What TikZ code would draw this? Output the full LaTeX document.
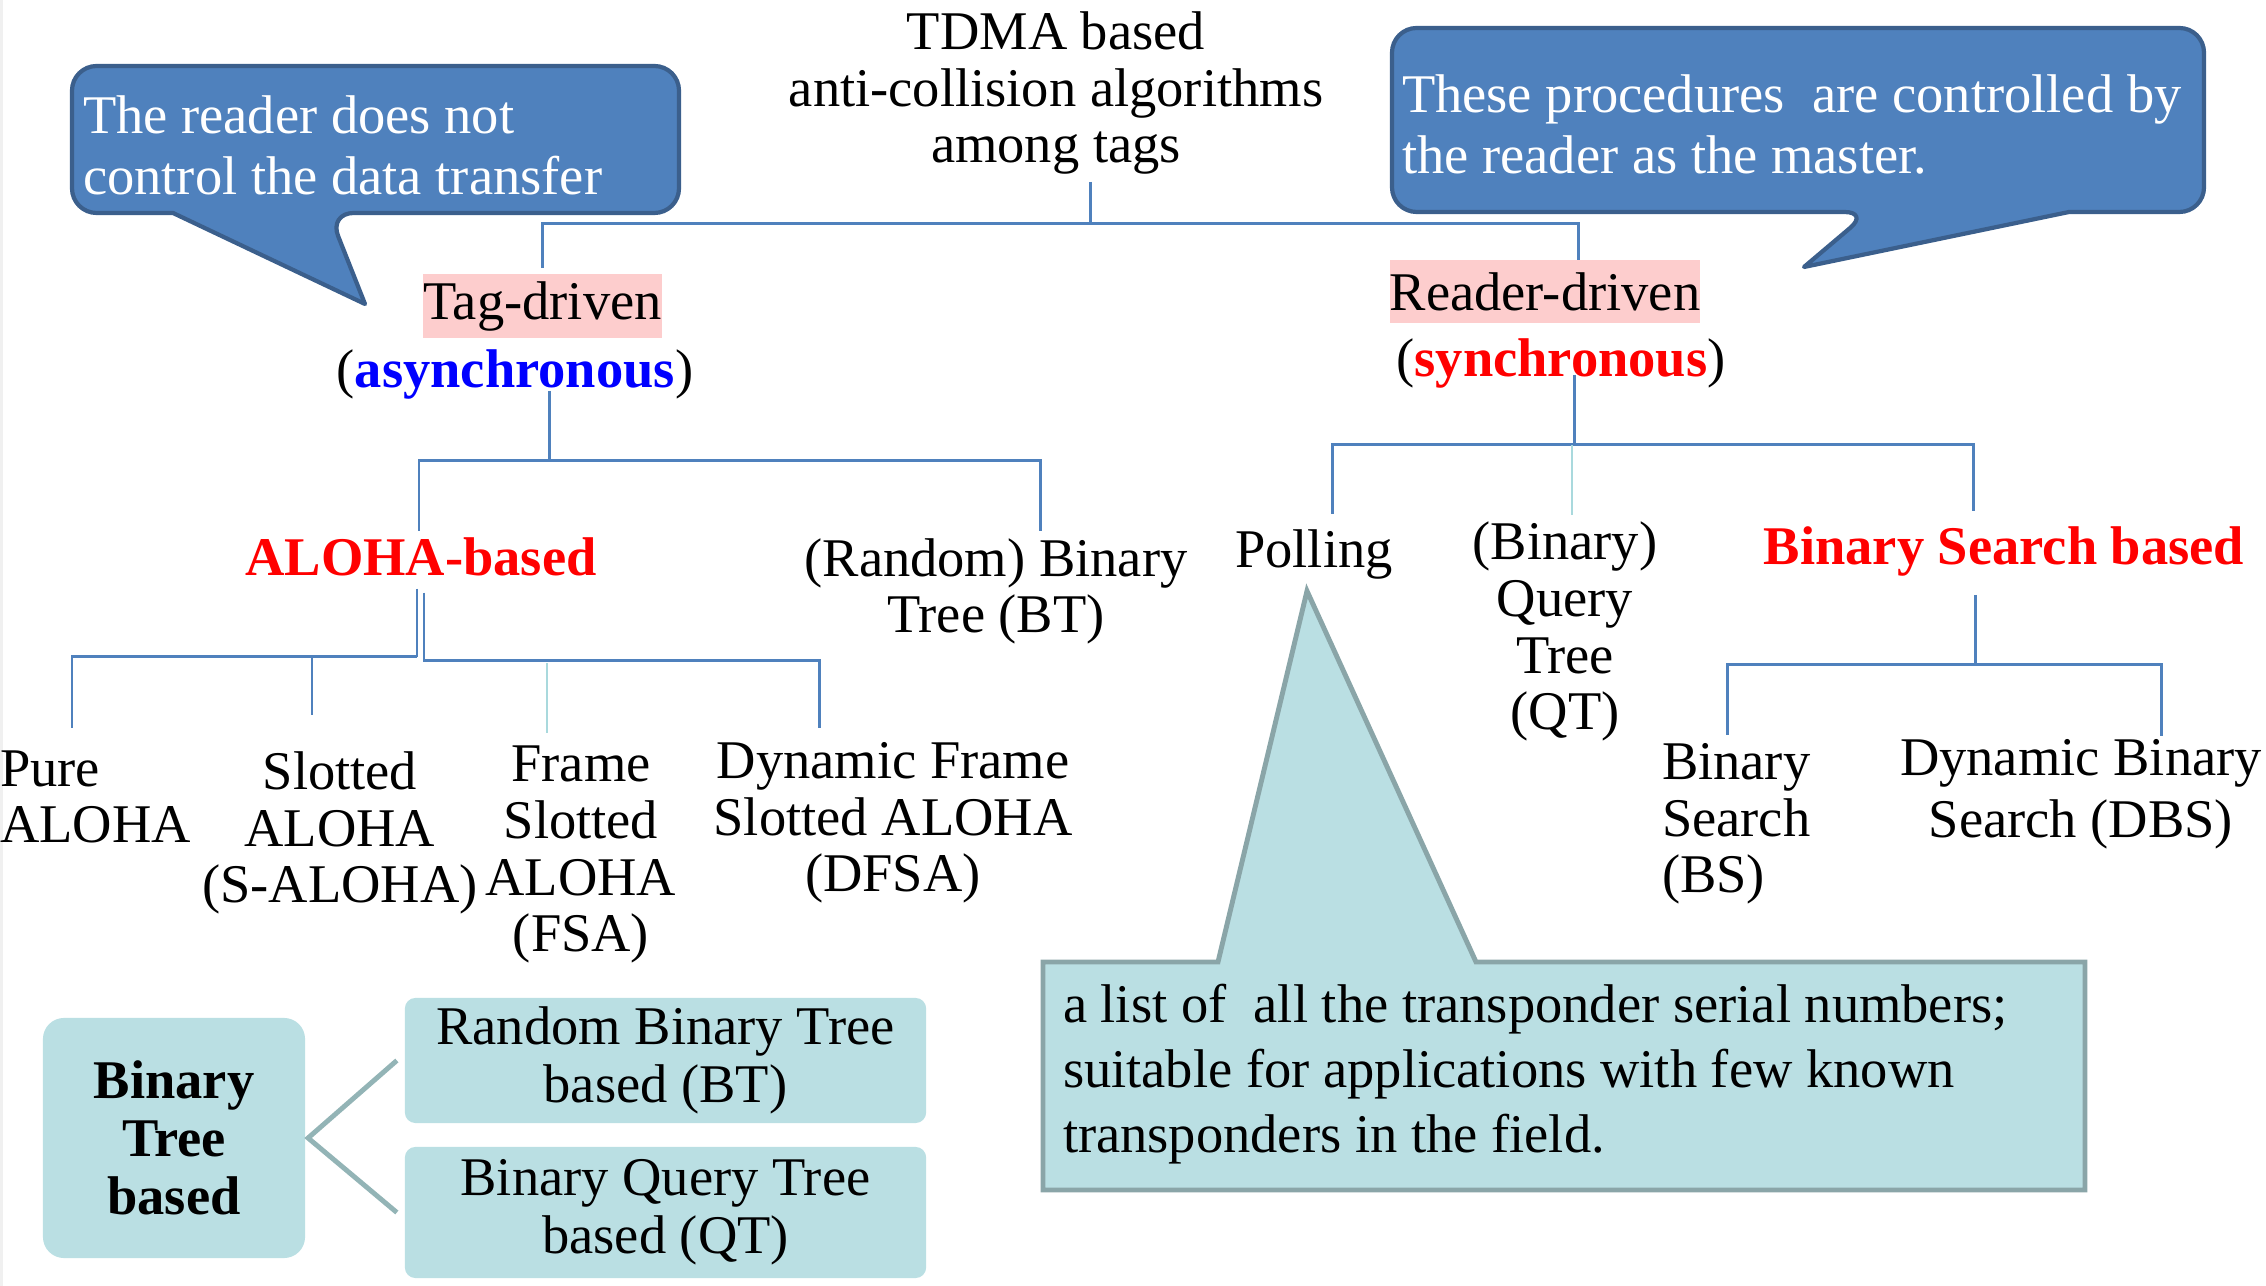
\documentclass[tikz,border=0pt]{standalone}
\usepackage{fontspec}
\setmainfont{Liberation Serif}
\usetikzlibrary{calc}
\definecolor{cblue}{HTML}{4F81BD}
\definecolor{cbluedark}{HTML}{3B5F8C}
\definecolor{cteal}{HTML}{BADFE3}
\definecolor{ctealdark}{HTML}{8AA5A8}
\definecolor{clinkteal}{HTML}{93B4B6}
\definecolor{clight}{HTML}{A9D9DD}
\definecolor{cpink}{HTML}{FDCDCD}
\definecolor{cred}{HTML}{FF0000}
\definecolor{cbluetext}{HTML}{0000FF}
\begin{document}
\begin{tikzpicture}[x=0.01cm,y=-0.01cm,
  every node/.style={inner sep=0pt, outer sep=0pt},
  txt/.style={align=center, anchor=base, font=\fontsize{15.5}{16.2}\selectfont},
  txtl/.style={align=left, anchor=base west, font=\fontsize{15.5}{16.2}\selectfont},
  redb/.style={txt, font=\fontsize{15.5}{16.2}\selectfont\bfseries, text=cred},
  pinkbox/.style={fill=cpink, font=\fontsize{15.5}{16.2}\selectfont},
  tree/.style={draw=cblue, line width=0.85pt},
  treelight/.style={draw=clight, line width=0.6pt},
  calloutblue/.style={fill=cblue, draw=cbluedark, line width=1.2pt, line join=round},
  calloutteal/.style={fill=cteal, draw=ctealdark, line width=1.4pt},
  tealbox/.style={fill=cteal, rounded corners=6pt, align=center, font=\fontsize{15.5}{16.5}\selectfont},
  tealline/.style={draw=clinkteal, line width=1.4pt}
]
\useasboundingbox (0,0) rectangle (2266,1286);
\fill[gray!12] (0,0) rectangle (3,1286);

% ---------- callouts (base anchor = last line's baseline) ----------
\draw[calloutblue] [rounded corners=7pt] (173,213) -- (72,213) -- (72,66) -- (679,66) -- (679,213) -- (329,213) [sharp corners] -- (365,304) -- cycle;
\node[txtl, text=white, font=\fontsize{15.5}{17.6}\selectfont] (noteL) at (83,195) {The reader does not\\control the data transfer};

\draw[calloutblue] [rounded corners=7pt] (2069,212) -- (2204,212) -- (2204,28) -- (1392,28) -- (1392,212) -- (1869,212) [sharp corners] -- (1804,267) -- cycle;
\node[txtl, text=white, font=\fontsize{15.5}{17.6}\selectfont] (noteR) at (1402,174) {These procedures\ \ are controlled by\\the reader as the master.};

\draw[calloutteal] (1218,962) -- (1043,962) -- (1043,1190) -- (2085,1190) -- (2085,962) -- (1476,962) -- (1307,591) -- cycle;
\node[txtl, font=\fontsize{15.5}{18.6}\selectfont] (notePoll) at (1063,1153) {a list of\ \ all the transponder serial numbers;\\suitable for applications with few known\\transponders in the field.};

% ---------- tree nodes ----------
\node[txt] (title) at (1056,163) {TDMA based\\anti-collision algorithms\\among tags};

\node[pinkbox, minimum width=2.37cm, minimum height=0.64cm] (tag) at (542.5,306) {Tag-driven};
\node[txt] (async) at (515,388) {(\textbf{\textcolor{cbluetext}{asynchronous}})};

\node[pinkbox, minimum width=3.06cm, minimum height=0.63cm] (reader) at (1545,291.5) {Reader-driven};
\node[txt] (sync) at (1561,377) {(\textbf{\textcolor{cred}{synchronous}})};

\node[redb] (aloha) at (421,576) {ALOHA-based};
\node[txt] (rbt) at (996,633) {(Random) Binary\\Tree (BT)};

\node[txtl] (pure) at (0,843) {Pure\\ALOHA};
\node[txt] (slotted) at (340,903) {Slotted\\ALOHA\\(S-ALOHA)};
\node[txt] (fsa) at (581,952) {Frame\\Slotted\\ALOHA\\(FSA)};
\node[txt] (dfsa) at (893,892) {Dynamic Frame\\Slotted ALOHA\\(DFSA)};

\node[txt] (polling) at (1314,568) {Polling};
\node[txt] (qt) at (1565,730) {(Binary)\\Query\\Tree\\(QT)};
\node[redb] (bsb) at (2004,565) {Binary Search based};

\node[txtl] (bs) at (1662,893) {Binary\\Search\\(BS)};
\node[txt, font=\fontsize{15.5}{17.9}\selectfont] (dbs) at (2081,838) {Dynamic Binary\\Search (DBS)};

% ---------- tree connectors ----------
\coordinate (tj) at ($(title.south)+(34,49)$);
\draw[tree] ($(title.south)+(34,7)$) -- (tj);
\draw[tree] (tj) -| ($(tag.north)+(0,-6)$);
\draw[tree] (tj) -| ($(reader.north)+(33,0)$);

\coordinate (aj) at ($(async.south)+(34,61)$);
\draw[tree] ($(async.south)+(34,-9)$) -- (aj);
\draw[tree] (aj) -| ($(aloha.north)+(-2,-7)$);
\draw[tree] (aj) -| ($(rbt.north)+(44,-7)$);

\coordinate (alj) at ($(aloha.south)+(-4,80)$);
\draw[tree] ($(aloha.south)+(-4,12)$) -- (alj);
\draw[tree] (alj) -| ($(pure.north west)+(72,-22)$);
\draw[tree] (alj) -| ($(slotted.north)+(-28,-36)$);
\draw[tree] ($(aloha.south)+(3,16)$) -- ++(0,68) -| ($(dfsa.north)+(-74,-14)$);
\draw[treelight] ($(fsa.north)+(-34,-82)$) -- ($(fsa.north)+(-34,-12)$);

\coordinate (sj) at ($(sync.south)+(13,56)$);
\draw[tree] ($(sync.south)+(13,-14)$) -- (sj);
\draw[tree] (sj) -| ($(polling.north)+(18,-16)$);
\draw[tree] (sj) -| ($(bsb.north)+(-31,-16)$);
\draw[treelight] ($(qt.north)+(7,-76)$) -- ($(qt.north)+(7,-6)$);

\coordinate (bj) at ($(bsb.south)+(-29,88)$);
\draw[tree] ($(bsb.south)+(-29,18)$) -- (bj);
\draw[tree] (bj) -| ($(bs.north west)+(65,-8)$);
\draw[tree] (bj) -| ($(dbs.north)+(80,-3)$);

% ---------- binary tree group ----------
\node[tealbox, rounded corners=6pt, minimum width=2.62cm, minimum height=2.40cm, font=\fontsize{15.5}{16.5}\selectfont\bfseries] (btb) at (174,1138) {Binary\\Tree\\based};
\node[tealbox, rounded corners=3pt, minimum width=5.21cm, minimum height=1.25cm] (rbtb) at (665.5,1060.5) {Random Binary Tree\\based (BT)};
\node[tealbox, rounded corners=3pt, minimum width=5.21cm, minimum height=1.31cm] (bqtb) at (665.5,1212.5) {Binary Query Tree\\based (QT)};
\draw[tealline] ($(rbtb.west)+(-8,0)$) -- ($(btb.east)+(3,0)$) -- ($(bqtb.west)+(-8,0)$);
\end{tikzpicture}
\end{document}
